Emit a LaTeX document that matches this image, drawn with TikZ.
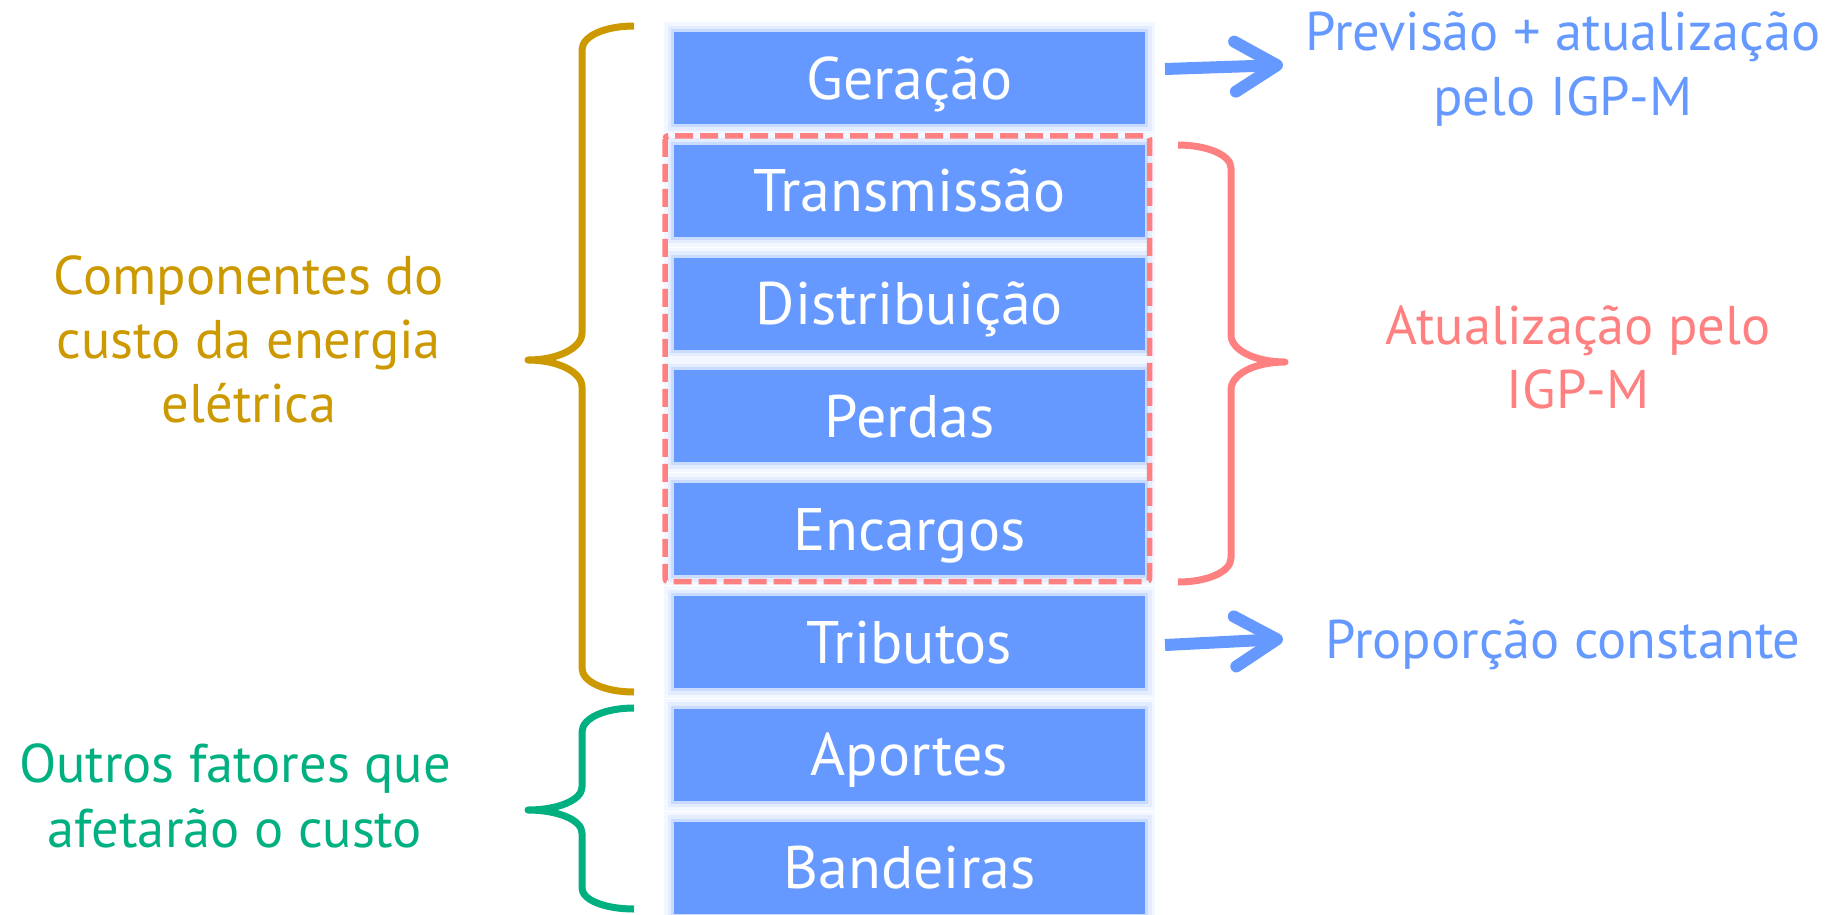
\documentclass[tikz,border=0pt]{standalone}
\usepackage{fontspec}
\setmainfont{PT Sans}
\usetikzlibrary{calc,arrows.meta}
\definecolor{boxblue}{HTML}{6699FF}
\definecolor{goldc}{HTML}{CC9900}
\definecolor{greenc}{HTML}{00B080}
\definecolor{salmonc}{HTML}{FF8080}
\begin{document}
\begin{tikzpicture}[x=1pt,y=-1pt,
  box/.style={rectangle, fill=boxblue, minimum width=471pt, minimum height=92pt,
    inner sep=0pt, outer sep=0pt, text=white, font=\fontsize{60pt}{72pt}\selectfont,
    text height=42pt, text depth=0pt,
    preaction={draw=boxblue!8, line width=20pt},
    preaction={draw=boxblue!18, line width=13pt},
    preaction={draw=boxblue!35, line width=6pt}},
  sidetext/.style={anchor=base, inner sep=0pt, font=\fontsize{54.5pt}{64pt}\selectfont},
  bracestyle/.style={line width=7pt, line cap=butt, line join=round},
  dashbox/.style={draw=salmonc, line width=5.5pt, dash pattern=on 18pt off 7pt, rounded corners=3pt},
  arr/.style={draw=boxblue, line width=12pt,
    -{Straight Barb[length=42pt 0 0, width=50pt 0 0, round]}}
]
\useasboundingbox (0,0) rectangle (1845,914);

% boxes
\node[box] (gen)   at (909.5,78)    {Geração};
\node[box] (trans) at (909.5,190.8) {Transmissão};
\node[box] (dist)  at (909.5,303.6) {Distribuição};
\node[box] (perd)  at (909.5,416.4) {Perdas};
\node[box] (enc)   at (909.5,529.2) {Encargos};
\node[box] (trib)  at (909.5,642)   {Tributos};
\node[box] (apor)  at (909.5,754.8) {Aportes};
\node[box] (band)  at (909.5,867.6) {Bandeiras};

% dashed group
\draw[dashbox] ($(trans.north west)+(-9,-9)$) rectangle ($(enc.south east)+(4.5,6.3)$);

% side texts
\node[sidetext, text=boxblue] (prev1) at (1563,50)  {Previsão + atualização};
\node[sidetext, text=boxblue] (prev2) at (1563,115) {pelo IGP-M};
\node[sidetext, text=salmonc] (atu1) at (1578,344) {Atualização pelo};
\node[sidetext, text=salmonc] (atu2) at (1578,408) {IGP-M};
\node[sidetext, text=boxblue] (prop) at (1563,658) {Proporção constante};
\node[sidetext, text=goldc] (comp1) at (249,294) {Componentes do};
\node[sidetext, text=goldc] (comp2) at (249,358) {custo da energia};
\node[sidetext, text=goldc] (comp3) at (249,422) {elétrica};
\node[sidetext, text=greenc] (out1) at (235,782) {Outros fatores que};
\node[sidetext, text=greenc] (out2) at (235,847) {afetarão o custo};

% arrows
\coordinate (ga) at (1165,69);
\coordinate (gb) at (1283,65);
\draw[arr] (ga) -- (gb);
\coordinate (ta) at (1165,645);
\coordinate (tb) at (1283,639);
\draw[arr] (ta) -- (tb);

% braces
\draw[bracestyle, draw=goldc] (634,26) .. controls (605,26) and (582,36) .. (582,50)
  -- (582,333) .. controls (582,348) and (558,360) .. (528,360)
  .. controls (558,360) and (582,372) .. (582,387)
  -- (582,668) .. controls (582,682) and (605,692) .. (634,692);
\draw[bracestyle, draw=greenc] (634,708) .. controls (605,708) and (582,718) .. (582,732)
  -- (582,787) .. controls (582,800) and (558,810) .. (528,810)
  .. controls (558,810) and (582,820) .. (582,833)
  -- (582,888) .. controls (582,900) and (605,909) .. (634,909);
\draw[bracestyle, draw=salmonc] (1178,145) .. controls (1207,145) and (1231,155) .. (1231,168)
  -- (1231,335) .. controls (1231,350) and (1255,362) .. (1285,362)
  .. controls (1255,362) and (1231,374) .. (1231,390)
  -- (1231,558) .. controls (1231,572) and (1207,582) .. (1178,582);
\end{tikzpicture}
\end{document}
